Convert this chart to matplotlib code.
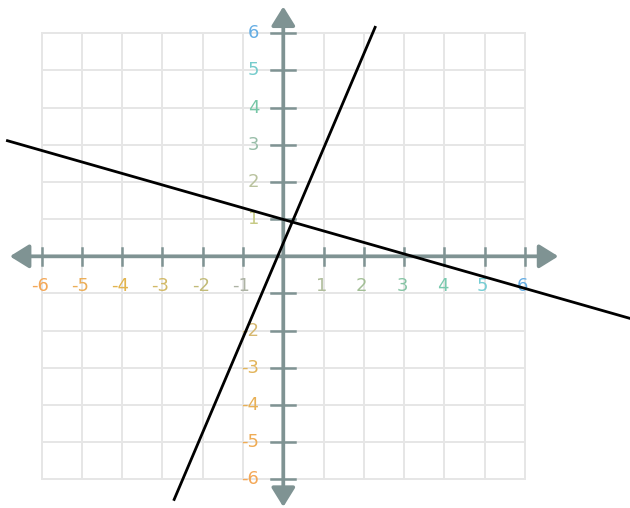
import matplotlib
matplotlib.use("Agg")
import matplotlib.pyplot as plt
import numpy as np

# data
grid_ticks = np.arange(-6, 7)
x_label_vals = [-6, -5, -4, -3, -2, -1, 1, 2, 3, 4, 5, 6]
x_label_colors = ["#f4a858", "#ecae58", "#e2b44e", "#d2b966", "#c2bb78", "#adb3a4",
                  "#b0bd9c", "#a3bf96", "#86c4a4", "#79c9ae", "#76cdd4", "#66aee4"]
y_label_vals = [6, 5, 4, 3, 2, 1, -2, -3, -4, -5, -6]
y_label_colors = ["#66aee4", "#76cccc", "#76c6a6", "#98bda8", "#b9c29e", "#c6ca84",
                  "#d6b870", "#e2b45a", "#e8b056", "#efab54", "#f4a858"]

# two lines, endpoints
steep_x = [-2.71, 2.28]
steep_y = [-6.54, 6.16]
shallow_x = [-6.85, 8.61]
shallow_y = [3.11, -1.67]

AXIS_COLOR = "#7f9393"
x_axis_ends = (-6.79, 6.83)
y_axis_ends = (-6.74, 6.72)

fig = plt.figure(figsize=(6.3, 5.08), dpi=100)
ax = fig.add_axes([0, 0, 1, 1])
ax.set_xlim(-7.035, 8.61)
ax.set_ylim(-6.77, 6.895)
ax.axis("off")

# grid
for t in grid_ticks:
    ax.plot([t, t], [-6, 6], color="#e6e6e6", lw=1.4, zorder=1)
    ax.plot([-6, 6], [t, t], color="#e6e6e6", lw=1.4, zorder=1)

# axes with arrows
arrow = dict(arrowstyle="-|>,head_length=0.58,head_width=0.36", color=AXIS_COLOR,
             lw=2.7, shrinkA=0, shrinkB=0, mutation_scale=20)
ax.annotate("", xy=(x_axis_ends[0], 0), xytext=(0, 0), arrowprops=arrow, zorder=3)
ax.annotate("", xy=(x_axis_ends[1], 0), xytext=(0, 0), arrowprops=arrow, zorder=3)
ax.annotate("", xy=(0, y_axis_ends[0]), xytext=(0, 0), arrowprops=arrow, zorder=3)
ax.annotate("", xy=(0, y_axis_ends[1]), xytext=(0, 0), arrowprops=arrow, zorder=3)

# tick marks
for t in grid_ticks:
    if t == 0:
        continue
    ax.plot([t, t], [-0.22, 0.22], color=AXIS_COLOR, lw=1.8, zorder=3)
    ax.plot([-0.3, 0.3], [t, t], color=AXIS_COLOR, lw=1.8, zorder=3)

# tick labels
for v, c in zip(x_label_vals, x_label_colors):
    ax.text(v - 0.05, -0.8, str(v), color=c, fontsize=13, ha="center", va="center", zorder=2)
for v, c in zip(y_label_vals, y_label_colors):
    ax.text(-0.6, v, str(v), color=c, fontsize=13, ha="right", va="center", zorder=2)

ax.plot(steep_x, steep_y, color="black", lw=2, zorder=4)
ax.plot(shallow_x, shallow_y, color="black", lw=2, zorder=4)

fig.savefig("out.png", dpi=100)
